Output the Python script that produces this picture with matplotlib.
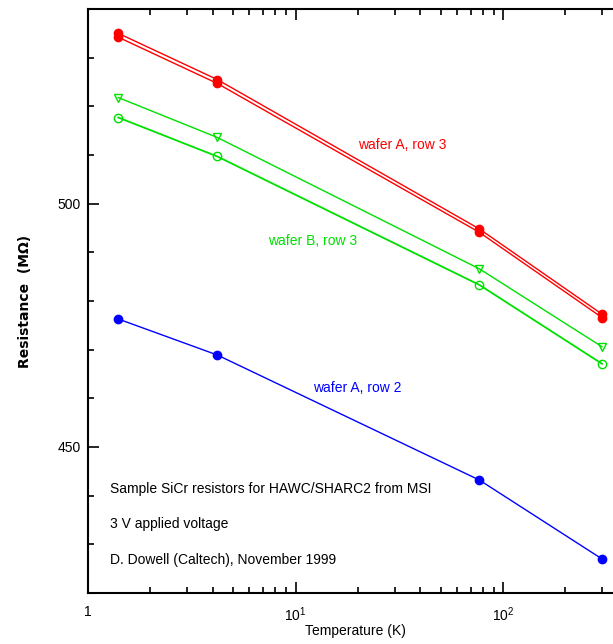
import matplotlib
matplotlib.use("Agg")
import matplotlib.pyplot as plt
from matplotlib.ticker import LogLocator, MultipleLocator, FixedLocator, NullFormatter

plt.rcParams['font.family'] = ['Liberation Sans', 'DejaVu Sans']
plt.rcParams['mathtext.fontset'] = 'custom'
plt.rcParams['mathtext.rm'] = 'Liberation Sans'

temps = [1.4, 4.2, 77, 300]
red_a3_upper = [535.0, 525.5, 494.8, 477.3]
red_a3_lower = [534.2, 524.7, 494.1, 476.6]
green_b3_tri = [521.8, 513.6, 486.6, 470.6]
green_b3_circ = [517.7, 509.7, 483.3, 467.1]
blue_a2 = [476.3, 468.9, 443.2, 427.0]

labels = ["wafer A, row 3", "wafer B, row 3", "wafer A, row 2"]
notes = ["Sample SiCr resistors for HAWC/SHARC2 from MSI",
         "3 V applied voltage",
         "D. Dowell (Caltech), November 1999"]

W, H = 613, 644
fig = plt.figure(figsize=(W/100, H/100), dpi=100)
left, right = 88, 88 + 3*207.5
top, bottom = 9, 593
ax = fig.add_axes([left/W, (H-bottom)/H, (right-left)/W, (bottom-top)/H])
ax.set_xscale('log')
ax.set_xlim(1, 1000)
ax.set_ylim(420, 540)

red = '#ff0000'
green = '#00e000'
blue = '#0000ff'

ax.plot(temps, red_a3_upper, '-', color=red, lw=1.0, marker='o', ms=6, mfc=red, mec=red)
ax.plot(temps, red_a3_lower, '-', color=red, lw=1.0, marker='o', ms=6, mfc=red, mec=red)
ax.plot(temps, green_b3_tri, '-', color=green, lw=1.0, marker='v', ms=6, mfc='none', mec=green)
ax.plot(temps, green_b3_circ, '-', color=green, lw=1.3, marker='o', ms=6, mfc='none', mec=green)
ax.plot(temps, blue_a2, '-', color=blue, lw=1.0, marker='o', ms=6, mfc=blue, mec=blue)

# labels
ax.text(20, 512.0, labels[0], color=red, fontsize=10, ha='left', va='center')
ax.text(7.4, 492.4, labels[1], color=green, fontsize=10, ha='left', va='center')
ax.text(12.1, 462.1, labels[2], color=blue, fontsize=10, ha='left', va='center')

for i, t in enumerate(notes):
    ax.text(1.28, 441.4 - i*7.3, t, color='black', fontsize=10, ha='left', va='center')

ax.xaxis.set_major_locator(FixedLocator([1, 10, 100]))
ax.set_xticklabels(['1', r'10$^1$', r'10$^2$'], fontsize=10)
ax.xaxis.set_minor_locator(LogLocator(base=10, subs=range(2, 10), numticks=20))
ax.xaxis.set_minor_formatter(NullFormatter())
ax.yaxis.set_major_locator(MultipleLocator(50))
ax.yaxis.set_minor_locator(MultipleLocator(10))
ax.tick_params(axis='both', which='both', direction='in', top=True, right=True, width=1.2)
ax.tick_params(axis='both', which='major', length=8, labelsize=10)
ax.tick_params(axis='both', which='minor', length=4)
ax.tick_params(axis='x', which='major', pad=9)
ax.tick_params(axis='y', which='major', pad=5)

for s in ax.spines.values():
    s.set_linewidth(1.5)

ax.set_xlabel('Temperature (K)', fontsize=10)
ax.set_ylabel('Resistance  (M\u03a9)', fontsize=10, fontweight='bold', family=['DejaVu Sans'])
ax.xaxis.set_label_coords((355-left)/(right-left), -(624-593)/(bottom-top))
ax.yaxis.set_label_coords(-(88-32)/(right-left), (593-301)/(bottom-top))

fig.savefig('out.png', dpi=100)
